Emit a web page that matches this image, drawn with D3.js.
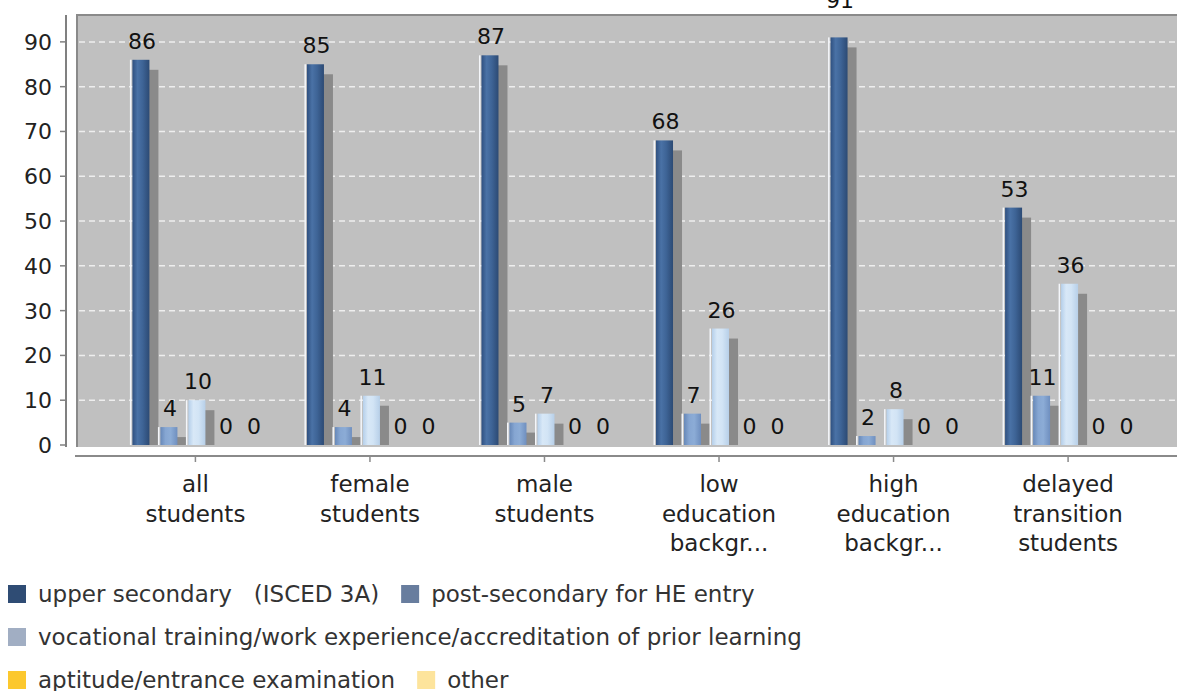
<!DOCTYPE html>
<html><head><meta charset="utf-8">
<script src="https://cdn.jsdelivr.net/npm/d3@7"></script>
<style>html,body{margin:0;padding:0;background:#fff;}svg{display:block;font-family:"DejaVu Sans",sans-serif;}</style>
</head><body><svg id="chart" width="1177" height="691"></svg>
<script>
const categories = ["all students","female students","male students","low education backgr...","high education backgr...","delayed transition students"];
const categoryLines = [["all","students"],["female","students"],["male","students"],["low","education","backgr..."],["high","education","backgr..."],["delayed","transition","students"]];
const seriesNames = ["upper secondary\u00a0\u00a0 (ISCED 3A)","post-secondary for HE entry","vocational training/work experience/accreditation of prior learning","aptitude/entrance examination","other"];
const upperSecondary = [86,85,87,68,91,53];
const postSecondary = [4,4,5,7,2,11];
const vocational = [10,11,7,26,8,36];
const aptitude = [0,0,0,0,0,0];
const other = [0,0,0,0,0,0];
const yTicks = [0,10,20,30,40,50,60,70,80,90];
const legendColors = ["#2f4c74","#687d9e","#a1aec3","#fcc82e","#fde49c"];
const legendRows = [[0,1],[2],[3,4]];

const seriesValues = [upperSecondary, postSecondary, vocational, aptitude, other];
const gradStops = [
  ["#2f5080","#4a72a6","#3e6496","#2c4a74"],
  ["#6788b8","#86a6d2","#8cacd6","#6f8fbf"],
  ["#b5cfea","#d8e8f7","#d2e4f5","#b7cfe8"],
  ["#e8b820","#fcd04a","#fcd04a","#e8b820"],
  ["#f5d98a","#fde9ad","#fde9ad","#f5d98a"]
];

const svg = d3.select("#chart");
const W = 1177, H = 691;
const plot = {left:77, right:1177, top:15, bottom:447};
const numFont = 22, txtFont = 23;
svg.append("rect").attr("width",W).attr("height",H).attr("fill","#fff");

const defs = svg.append("defs");
gradStops.forEach((st,i)=>{
  const g = defs.append("linearGradient").attr("id","g"+i).attr("x1","0").attr("x2","1").attr("y1","0").attr("y2","0");
  [0,0.3,0.6,1].forEach((o,j)=>g.append("stop").attr("offset",o).attr("stop-color",st[j]));
});
defs.append("clipPath").attr("id","plotclip").append("rect")
  .attr("x",plot.left).attr("y",plot.top).attr("width",plot.right-plot.left).attr("height",plot.bottom-plot.top);

const y = d3.scaleLinear().domain([0,96]).range([445,15]);
const x0 = d3.scaleBand().domain(categories).range([108.15,1155.35]).padding(0);
const x1 = d3.scaleBand().domain(d3.range(5)).range([-68.5,71.5]).padding(0);
const barW = 17, shDx = 9, shDy = 10;

svg.append("rect").attr("x",plot.left).attr("y",plot.top).attr("width",plot.right-plot.left).attr("height",plot.bottom-plot.top).attr("fill","#c0c0c0");
svg.append("g").selectAll("line").data(yTicks.filter(t=>t>0)).join("line")
  .attr("x1",plot.left+2).attr("x2",plot.right).attr("y1",d=>y(d)).attr("y2",d=>y(d))
  .attr("stroke","#eeeeee").attr("stroke-width",1.5).attr("stroke-dasharray","6,4");
svg.append("path").attr("d",`M${plot.left},${plot.bottom}V${plot.top}H${plot.right}`)
  .attr("fill","none").attr("stroke","#8a8a8a").attr("stroke-width",2);

const bars = svg.append("g").attr("clip-path","url(#plotclip)");
const labels = svg.append("g");
categories.forEach((c,ci)=>{
  const gc = x0(c) + x0.bandwidth()/2;
  seriesValues.forEach((vals,si)=>{
    const v = vals[ci];
    const cx = gc + x1(si) + x1.step()/2;
    const bx = cx - barW/2;
    if (v > 0) {
      bars.append("rect").attr("x",bx+shDx).attr("y",y(v)+shDy).attr("width",barW)
        .attr("height",Math.max(0,y(0)-y(v)-shDy)).attr("fill","#8a8a8a");
      bars.append("rect").attr("x",bx-2.5).attr("y",y(v)).attr("width",1.5).attr("height",y(0)-y(v)).attr("fill","#f4f6fa");
      bars.append("rect").attr("x",bx).attr("y",y(v)).attr("width",barW).attr("height",y(0)-y(v)).attr("fill",`url(#g${si})`);
    }
    let base = y(v) - 11;
    if (base - 16 < plot.top) base = plot.top - 7;
    labels.append("text").attr("x",cx+1).attr("y",base).attr("text-anchor","middle")
      .attr("font-size",numFont).attr("fill","#111").text(v);
  });
});

const ya = svg.append("g");
ya.append("line").attr("x1",66).attr("x2",66).attr("y1",plot.top).attr("y2",plot.bottom).attr("stroke","#808080").attr("stroke-width",2);
ya.selectAll(".t").data(yTicks).join("line").attr("class","t").attr("x1",60).attr("x2",66).attr("y1",d=>y(d)).attr("y2",d=>y(d)).attr("stroke","#808080").attr("stroke-width",1.5);
ya.selectAll("text").data(yTicks).join("text").attr("x",52).attr("y",d=>y(d)).attr("dy","0.36em")
  .attr("text-anchor","end").attr("font-size",numFont).attr("fill","#222").text(d=>d);

const xa = svg.append("g");
xa.append("line").attr("x1",75).attr("x2",W).attr("y1",456).attr("y2",456).attr("stroke","#8a8a8a").attr("stroke-width",2);
categories.forEach((c,ci)=>{
  const gc = x0(c) + x0.bandwidth()/2;
  xa.append("line").attr("x1",gc).attr("x2",gc).attr("y1",456).attr("y2",462).attr("stroke","#8a8a8a").attr("stroke-width",1.5);
  const t = xa.append("text").attr("text-anchor","middle").attr("font-size",txtFont).attr("fill","#222");
  categoryLines[ci].forEach((ln,li)=>{
    t.append("tspan").attr("x",gc).attr("y",492+29.5*li).text(ln);
  });
});

const lg = svg.append("g");
legendRows.forEach((row,ri)=>{
  const cy = 594 + 43*ri;
  let xpos = 8;
  row.forEach(si=>{
    lg.append("rect").attr("x",xpos).attr("y",cy-9).attr("width",18).attr("height",18).attr("fill",legendColors[si]);
    const tx = lg.append("text").attr("x",xpos+30).attr("y",cy).attr("dy","0.36em").attr("font-size",txtFont).attr("fill","#333").text(seriesNames[si]);
    xpos = xpos + 30 + tx.node().getComputedTextLength() + 22;
  });
});
</script></body></html>
